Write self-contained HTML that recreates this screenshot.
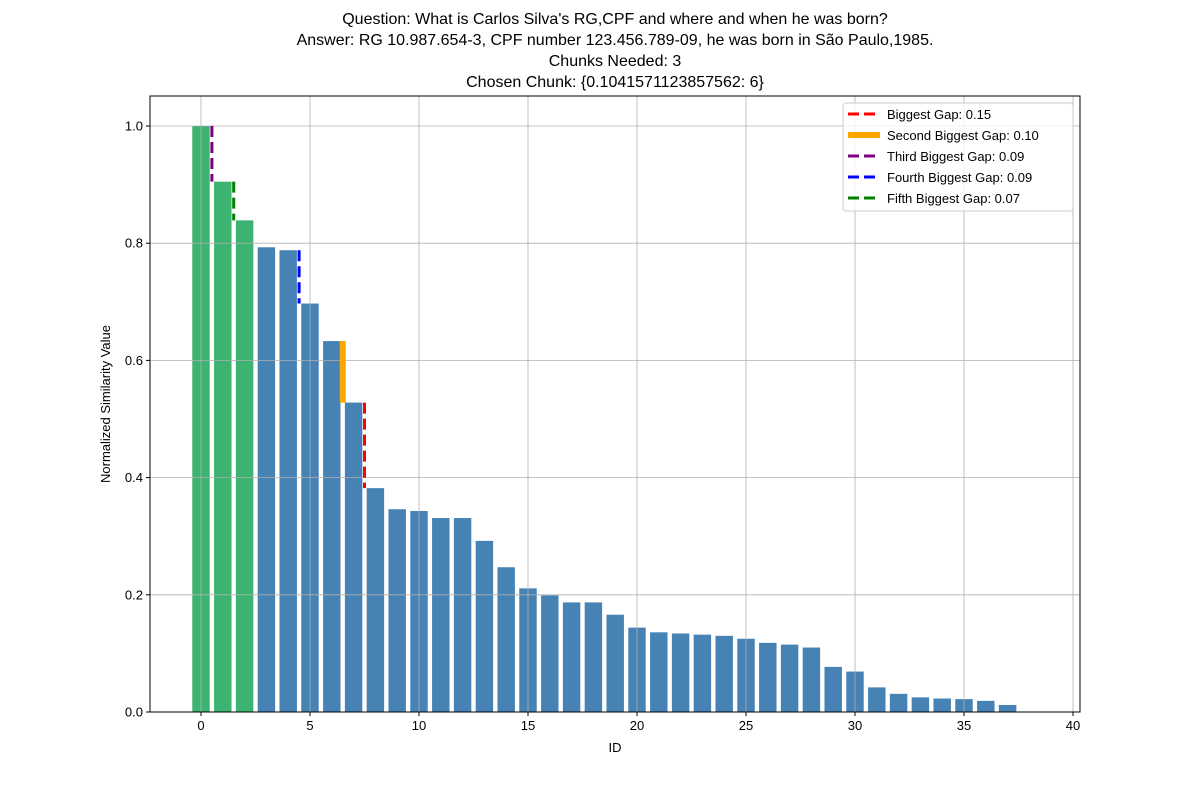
<!DOCTYPE html>
<html><head><meta charset="utf-8"><style>
body{margin:0;background:#fff}
svg text{font-family:"Liberation Sans","DejaVu Sans",sans-serif;fill:#000}
</style></head><body>
<svg id="chart" width="1200" height="800"></svg>
<script>
const ids = Array.from({length:38},(_,i)=>i);
const values = [1.0,0.905,0.839,0.793,0.788,0.697,0.633,0.528,0.382,0.346,0.343,0.331,0.331,0.292,0.247,0.211,0.199,0.187,0.187,0.166,0.144,0.136,0.134,0.132,0.130,0.125,0.118,0.115,0.110,0.077,0.069,0.042,0.031,0.025,0.023,0.022,0.019,0.012];
const chosenCount = 3;
const gapIndices = [7,6,0,4,1];
const gapNames = ["Biggest Gap","Second Biggest Gap","Third Biggest Gap","Fourth Biggest Gap","Fifth Biggest Gap"];
const gapLabels = ["0.15","0.10","0.09","0.09","0.07"];
const gapColors = ["red","orange","purple","blue","green"];
const xTicks = [0,5,10,15,20,25,30,35,40];
const yTicks = [0.0,0.2,0.4,0.6,0.8,1.0];
const titleLines = ["Question: What is Carlos Silva's RG,CPF and where and when he was born?","Answer: RG 10.987.654-3, CPF number 123.456.789-09, he was born in São Paulo,1985.","Chunks Needed: 3","Chosen Chunk: {0.1041571123857562: 6}"];

const L=150,R=1080,T=96,B=712;
const xs=v=>201+v*21.8;
const ys=v=>712-v*586;
const svg=document.getElementById('chart');
const NS='http://www.w3.org/2000/svg';
function mk(tag,attrs,parent){const e=document.createElementNS(NS,tag);for(const k in attrs)e.setAttribute(k,attrs[k]);(parent||svg).appendChild(e);return e;}

// bars
ids.forEach((id,i)=>{const v=values[i];const w=0.8*21.8;
const b=mk('rect',{x:xs(id)-w/2,y:ys(v),width:w,height:ys(0)-ys(v),fill:i<chosenCount?'#3cb371':'#4682b4'});

});

// grid (drawn above bars)
xTicks.forEach(t=>{const g=mk('line',{x1:xs(t),x2:xs(t),y1:T,y2:B,stroke:'#b0b0b0','stroke-width':0.8});

});
yTicks.forEach(t=>{const g=mk('line',{x1:L,x2:R,y1:ys(t),y2:ys(t),stroke:'#b0b0b0','stroke-width':0.8});

});

// gap lines
gapIndices.forEach((gi,k)=>{const x=xs(gi+0.5);
const attrs={x1:x,x2:x,y1:ys(values[gi]),y2:ys(values[gi+1]),stroke:gapColors[k],'stroke-width':k===1?6:3};
if(k!==1)attrs['stroke-dasharray']='11,5';
const g=mk('line',attrs);

});

// axes frame
const fr=mk('rect',{x:L,y:T,width:R-L,height:B-T,fill:'none',stroke:'#000','stroke-width':1});



xTicks.forEach(t=>{mk('line',{x1:xs(t),x2:xs(t),y1:B,y2:B+4,stroke:'#000'});
const tx=mk('text',{x:xs(t),y:B+18,'text-anchor':'middle','font-size':13});tx.textContent=t;

});
yTicks.forEach(t=>{mk('line',{x1:L-4,x2:L,y1:ys(t),y2:ys(t),stroke:'#000'});
const tx=mk('text',{x:L-7,y:ys(t)+4.5,'text-anchor':'end','font-size':13});tx.textContent=t.toFixed(1);

});

const xl=mk('text',{x:615,y:752,'text-anchor':'middle','font-size':13});xl.textContent='ID';


const yl=mk('text',{x:110,y:404,'text-anchor':'middle','font-size':13,transform:'rotate(-90 110 404)'});yl.textContent='Normalized Similarity Value';



titleLines.forEach((s,i)=>{const t=mk('text',{x:615,y:24+i*21,'text-anchor':'middle','font-size':16});t.textContent=s;

});

// legend
const lg=mk('g',{});


mk('rect',{x:843,y:103,width:230,height:108,rx:3,fill:'#fff','fill-opacity':0.8,stroke:'#ccc'},lg);
gapNames.forEach((n,k)=>{const y=114+k*21;
const a={x1:848,x2:880,y1:y,y2:y,stroke:gapColors[k],'stroke-width':k===1?6:3};
if(k!==1)a['stroke-dasharray']='11,5';
mk('line',a,lg);
const t=mk('text',{x:887,y:y+5,'font-size':13},lg);t.textContent=n+': '+gapLabels[k];

});
</script>
</body></html>
